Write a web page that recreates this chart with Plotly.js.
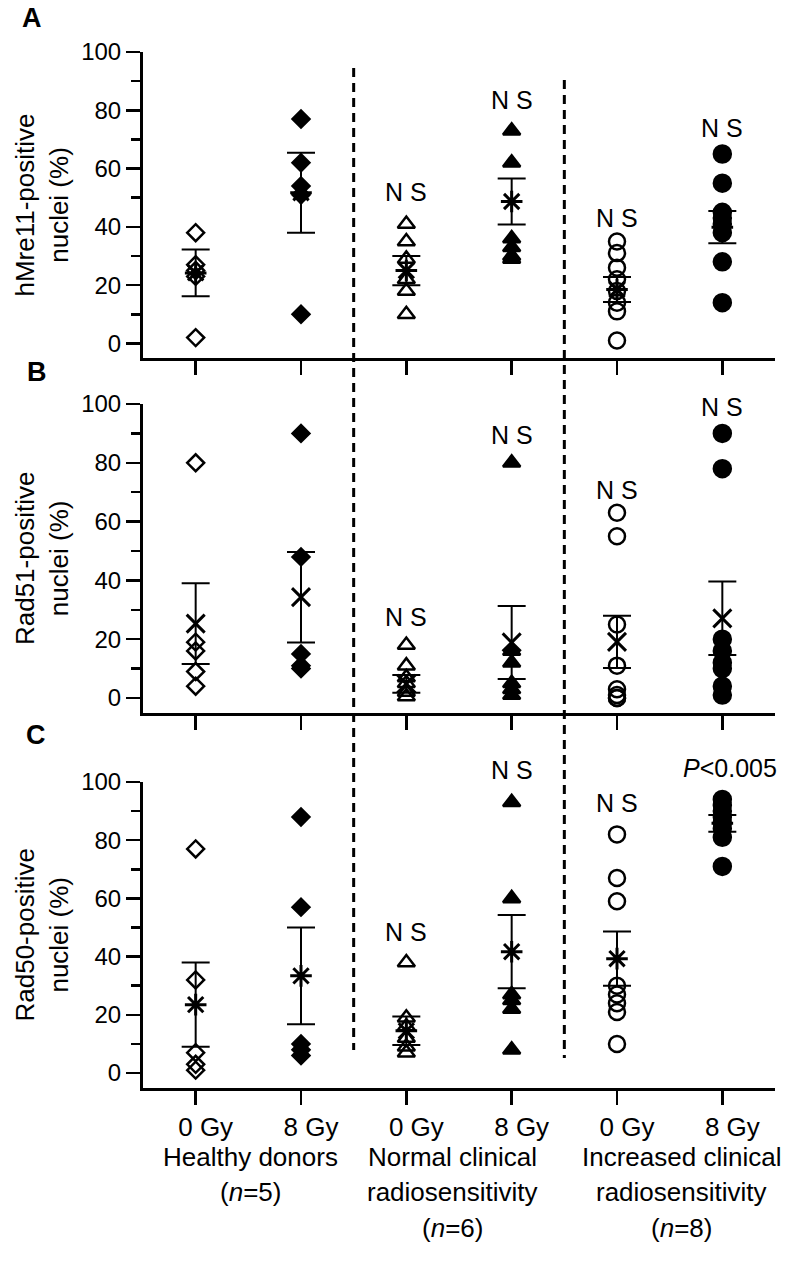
<!DOCTYPE html>
<html>
<head>
<meta charset="utf-8">
<script src="https://cdn.plot.ly/plotly-3.0.1.min.js"></script>
<style>html,body{margin:0;padding:0;background:#fff;}#chart{width:800px;height:1268px;}</style>
</head>
<body>
<div id="chart"></div>
<script>
// ---------- DATA ----------
const doseLabels = ["0 Gy", "8 Gy", "0 Gy", "8 Gy", "0 Gy", "8 Gy"];
const groupLines = [
  ["Healthy donors", "(<i>n</i>=5)"],
  ["Normal clinical", "radiosensitivity", "(<i>n</i>=6)"],
  ["Increased clinical", "radiosensitivity", "(<i>n</i>=8)"]
];
const panelTitles = ["hMre11-positive<br>nuclei (%)", "Rad51-positive<br>nuclei (%)", "Rad50-positive<br>nuclei (%)"];
const panelLetters = ["A", "B", "C"];

// Panel A: hMre11
const hMre11_HD0 = [38, 27, 25, 23, 2];
const hMre11_HD8 = [77, 62, 54, 51, 10];
const hMre11_NC0 = [41, 35, 29, 22, 18, 10];
const hMre11_NC8 = [73, 62, 36, 33, 30, 29];
const hMre11_IC0 = [35, 31, 26, 22, 18, 14, 11, 1];
const hMre11_IC8 = [65, 55, 45, 43, 41, 38, 28, 14];
const hMre11_mean = [24.2, 51.7, 25, 48.7, 18.5, 39.9];
const hMre11_sem  = [8, 13.7, 5, 7.9, 4.3, 5.5];
const hMre11_sig  = ["", "", "N S", "N S", "N S", "N S"];

// Panel B: Rad51
const Rad51_HD0 = [80, 19, 16, 9, 4];
const Rad51_HD8 = [90, 48, 15, 11, 10];
const Rad51_NC0 = [18, 11, 7, 5, 2, 0.5];
const Rad51_NC8 = [80, 16, 12, 5, 3, 1];
const Rad51_IC0 = [63, 55, 25, 11, 3, 1, 0, 0];
const Rad51_IC8 = [90, 78, 20, 16, 12, 10, 4, 1];
const Rad51_mean = [25.3, 34.3, 4.8, 18.9, 19.1, 27.1];
const Rad51_sem  = [13.7, 15.4, 3, 12.4, 8.9, 12.5];
const Rad51_sig  = ["", "", "N S", "N S", "N S", "N S"];

// Panel C: Rad50
const Rad50_HD0 = [77, 32, 7, 3, 1];
const Rad50_HD8 = [88, 57, 10, 8, 6];
const Rad50_NC0 = [38, 19, 16, 12, 9, 7];
const Rad50_NC8 = [93, 60, 27, 25, 22, 8];
const Rad50_IC0 = [82, 67, 59, 30, 27, 24, 21, 10];
const Rad50_IC8 = [94, 92, 90, 88, 86, 84, 81, 71];
const Rad50_mean = [23.5, 33.4, 14.5, 41.7, 39.3, 85.8];
const Rad50_sem  = [14.5, 16.6, 4.9, 12.6, 9.3, 2.9];
const Rad50_sig  = ["", "", "N S", "N S", "N S", "<i>P</i>&lt;0.005"];

// label heights (value units) for significance labels
const sigPosA = [0, 0, 52, 83.5, 43, 74];
const sigPosB = [0, 0, 27.7, 89.5, 70.7, 99];
const sigPosC = [0, 0, 48.6, 104, 92.7, 104.7];

// ---------- STYLE ----------
const FONT = "Liberation Sans, Arial, Helvetica, sans-serif";
const W = 800, H = 1268, ML = 143, MR = 25;
const YMIN = -5, YMAX = 100;
const px = x => (x - ML) / (W - ML - MR);
const py = y => 1 - y / H;
const symbols = ["diamond-open", "diamond", "triangle-up-open", "triangle-up", "circle-open", "circle"];
const sizes = [13, 13, 15, 15, 16, 17];
const meanSymbols = ["asterisk-open", "x-thin-open", "asterisk-open"];
const domainsPx = [[358, 52], [712.7, 404], [1087.6, 782]];
const domains = domainsPx.map(d => [py(d[0]), py(d[1])]);

const panels = [
  {cols: [hMre11_HD0, hMre11_HD8, hMre11_NC0, hMre11_NC8, hMre11_IC0, hMre11_IC8], mean: hMre11_mean, sem: hMre11_sem, sig: hMre11_sig, sigPos: sigPosA},
  {cols: [Rad51_HD0, Rad51_HD8, Rad51_NC0, Rad51_NC8, Rad51_IC0, Rad51_IC8], mean: Rad51_mean, sem: Rad51_sem, sig: Rad51_sig, sigPos: sigPosB},
  {cols: [Rad50_HD0, Rad50_HD8, Rad50_NC0, Rad50_NC8, Rad50_IC0, Rad50_IC8], mean: Rad50_mean, sem: Rad50_sem, sig: Rad50_sig, sigPos: sigPosC}
];

const traces = [];
const annotations = [];
const layout = {
  width: W, height: H,
  margin: {l: ML, r: MR, t: 0, b: 0},
  paper_bgcolor: "#fff", plot_bgcolor: "#fff",
  showlegend: false,
  font: {family: FONT, color: "#000", size: 24},
  shapes: [],
  annotations: annotations
};

panels.forEach((p, k) => {
  const sfx = k === 0 ? "" : String(k + 1);
  const xa = "x" + sfx, ya = "y" + sfx;
  const pxPerUnit = (domainsPx[k][0] - domainsPx[k][1]) / (YMAX - YMIN);
  p.cols.forEach((vals, i) => {
    traces.push({
      type: "scatter", mode: "markers", xaxis: xa, yaxis: ya,
      x: vals.map(() => i), y: vals, cliponaxis: false, hoverinfo: "y",
      marker: {symbol: symbols[i], size: sizes[i], color: "#000", line: {color: "#000", width: 2.5}}
    });
  });
  traces.push({
    type: "scatter", mode: "markers", xaxis: xa, yaxis: ya,
    x: p.mean.map((_, i) => i), y: p.mean, cliponaxis: false,
    marker: {symbol: meanSymbols[k], size: 18, color: "#000", line: {color: "#000", width: 3}},
    error_y: {type: "data", array: p.sem, visible: true, color: "#000", thickness: 2, width: 14}
  });
  layout["xaxis" + sfx] = {
    domain: [0, 1], anchor: ya, range: [-0.5, 5.5],
    showline: true, linewidth: 3, linecolor: "#000", mirror: false,
    ticks: "outside", ticklen: 14, tickwidth: 2.5, tickcolor: "#000",
    tickvals: [0, 1, 2, 3, 4, 5], ticktext: doseLabels,
    showticklabels: k === 2, tickfont: {family: FONT, size: 26, color: "#000"},
    ticklabelshift: 10,
    showgrid: false, zeroline: false, fixedrange: true
  };
  layout["yaxis" + sfx] = {
    domain: domains[k], anchor: xa, range: [YMIN, YMAX],
    showline: true, linewidth: 3, linecolor: "#000",
    ticks: "outside", ticklen: 14, tickwidth: 2.5, tickcolor: "#000",
    tickvals: [0, 20, 40, 60, 80, 100],
    minor: {tickvals: [10, 30, 50, 70, 90], ticks: "outside", ticklen: 9, tickwidth: 2.5, tickcolor: "#000", showgrid: false},
    tickfont: {family: FONT, size: 24, color: "#000"},
    title: {text: panelTitles[k], font: {family: FONT, size: 26, color: "#000"}, standoff: 6},
    showgrid: false, zeroline: false, fixedrange: true
  };
  p.sig.forEach((t, i) => {
    if (!t) return;
    const v = p.sigPos[i];
    const yIn = Math.min(v, YMAX);
    annotations.push({xref: xa, yref: ya, x: i, y: yIn, yshift: (v - yIn) * pxPerUnit, text: t, showarrow: false,
      xanchor: "center", yanchor: "middle", xshift: (t.indexOf("P") >= 0 ? 8 : 0),
      font: {family: FONT, size: 25, color: "#000"}});
  });
});

// panel letters
[[32, 17.5], [37, 372], [36, 735]].forEach((pos, k) => {
  annotations.push({xref: "paper", yref: "paper", x: px(pos[0]), y: py(pos[1]), text: "<b>" + panelLetters[k] + "</b>",
    showarrow: false, xanchor: "center", yanchor: "middle", font: {family: FONT, size: 27, color: "#000"}});
});

// group labels under bottom axis
const groupX = [0.52, 2.44, 4.61];
const lineY = [1157, 1192, 1228];
groupLines.forEach((lines, g) => {
  lines.forEach((t, j) => {
    annotations.push({xref: "x3", yref: "paper", x: groupX[g], y: py(lineY[j]), text: t, showarrow: false,
      xanchor: "center", yanchor: "middle", font: {family: FONT, size: 26, color: "#000"}});
  });
});

// dashed separators between groups
[[1.5, 68, 1050], [3.5, 80, 1058]].forEach(s => {
  layout.shapes.push({type: "line", xref: "x", yref: "paper", x0: s[0], x1: s[0], y0: py(s[1]), y1: py(s[2]),
    line: {color: "#000", width: 3, dash: "9px,6px"}, layer: "above"});
});

Plotly.newPlot("chart", traces, layout, {staticPlot: true, displayModeBar: false});
</script>
</body>
</html>
